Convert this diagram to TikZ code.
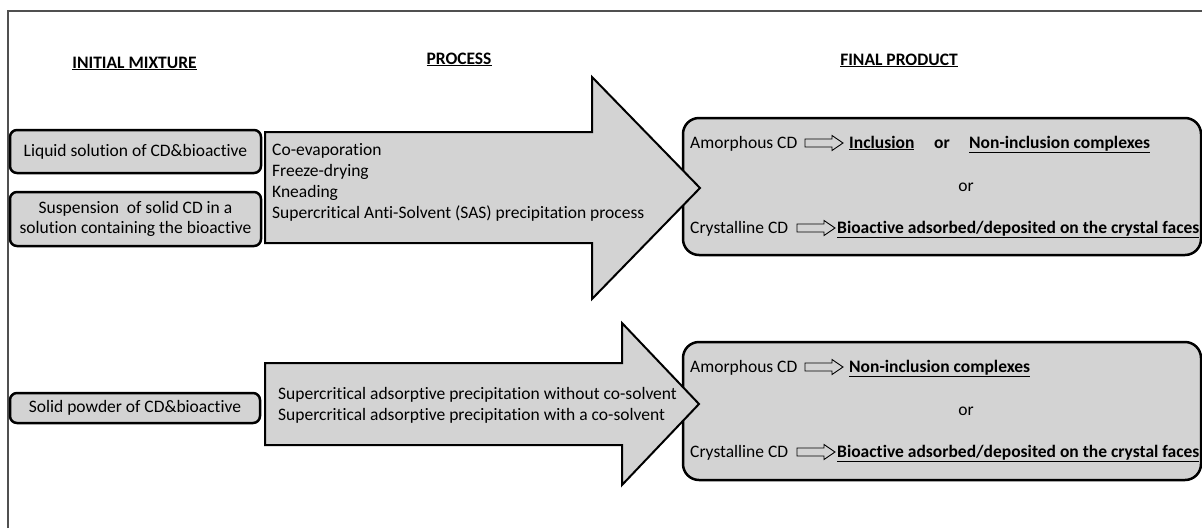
\documentclass[tikz,border=0pt]{standalone}
\usepackage{fontspec}
\usepackage{graphicx}
\setmainfont{Carlito}[Ligatures=NoCommon]
\definecolor{gfill}{RGB}{211,211,211}
\definecolor{framec}{RGB}{80,80,80}
\begin{document}
\begin{tikzpicture}[x=1pt,y=-1pt,
  txt/.style={font=\fontsize{17.5}{21}\selectfont, inner sep=0pt, anchor=base west},
  btxt/.style={font=\bfseries\fontsize{17.5}{21}\selectfont, inner sep=0pt, anchor=base west},
  ttl/.style={font=\bfseries\fontsize{17.5}{21}\selectfont, inner sep=0pt, anchor=base},
  leftbox/.style={draw, line width=2.5pt, fill=gfill, rounded corners=7pt, inner sep=0pt, align=center, font=\fontsize{17.5}{20}\selectfont},
  finalbox/.style={draw, line width=2.5pt, fill=gfill, rounded corners=16pt, inner sep=0pt},
  bigarrow/.style={draw, line width=2pt, fill=gfill, line join=miter},
  harrow/.pic={\draw[line width=0.9pt] (0,-4) -- (27,-4) -- (27,-7.5) -- (38,0) -- (27,7.5) -- (27,4) -- (0,4) -- cycle;}
]
\useasboundingbox (0,0) rectangle (1202,528);
% outer frame
\draw[line width=1.5pt, framec] (8,528) -- (8,11) -- (1202,11);
% titles
\node[ttl] (t1) at (134.5,68) {\underline{INITIAL MIXTURE}};
\node[ttl] (t2) at (459,64) {\underline{PROCESS}};
\node[ttl] (t3) at (899,65) {\underline{FINAL PRODUCT}};
% left boxes
\node[leftbox, minimum width=251pt, minimum height=43pt] (l1) at (135.5,151.5) {Liquid solution of CD\&bioactive};
\node[leftbox, minimum width=251pt, minimum height=54pt] (l2) at (135.5,219) {Suspension\ \ of solid CD in a\\solution containing the bioactive};
\node[leftbox, minimum width=250pt, minimum height=30pt] (l3) at (135,408) {Solid powder of CD\&bioactive};
% final boxes
\node[finalbox, minimum width=518pt, minimum height=137pt] (f1) at (942,186.5) {};
\node[finalbox, minimum width=518pt, minimum height=138pt] (f2) at (942,411) {};
% big arrows
\draw[bigarrow] (265,132) -- (592,132) -- (592,77) -- (700,188) -- (592,299) -- (592,243) -- (265,243) -- cycle;
\draw[bigarrow] (265,363) -- (622,363) -- (622,323) -- (699,404) -- (622,485) -- (622,445) -- (265,445) -- cycle;
% process texts
\node[txt] (p1) at (272,155) {Co-evaporation};
\node[txt] (p2) at (272,176) {Freeze-drying};
\node[txt] (p3) at (272,197) {Kneading};
\node[txt] (p4) at (272,218) {Supercritical Anti-Solvent (SAS) precipitation process};
\node[txt] (q1) at (278,399) {Supercritical adsorptive precipitation without co-solvent};
\node[txt] (q2) at (278,420) {Supercritical adsorptive precipitation with a co-solvent};
% final box 1 contents
\node[txt] (a1) at (690,148) {Amorphous CD};
\pic at (805,143) {harrow};
\node[btxt] (inc) at (849,148) {\underline{Inclusion}};
\node[btxt] (or1) at (934,148) {or};
\node[btxt] (ni1) at (969,148) {\underline{Non-inclusion complexes}};
\node[txt, anchor=base] (or2) at (966,191) {or};
\node[txt] (c1) at (690,233) {Crystalline CD};
\pic at (797,228) {harrow};
\node[btxt] (b1) at (837,233) {\underline{Bioactive adsorbed/deposited on the crystal faces}};
% final box 2 contents
\node[txt] (a2) at (690,372) {Amorphous CD};
\pic at (805,367) {harrow};
\node[btxt] (ni2) at (849,372) {\underline{Non-inclusion complexes}};
\node[txt, anchor=base] (or3) at (966,415) {or};
\node[txt] (c2) at (690,457) {Crystalline CD};
\pic at (797,452) {harrow};
\node[btxt] (b2) at (837,457) {\underline{Bioactive adsorbed/deposited on the crystal faces}};
\end{tikzpicture}
\end{document}
